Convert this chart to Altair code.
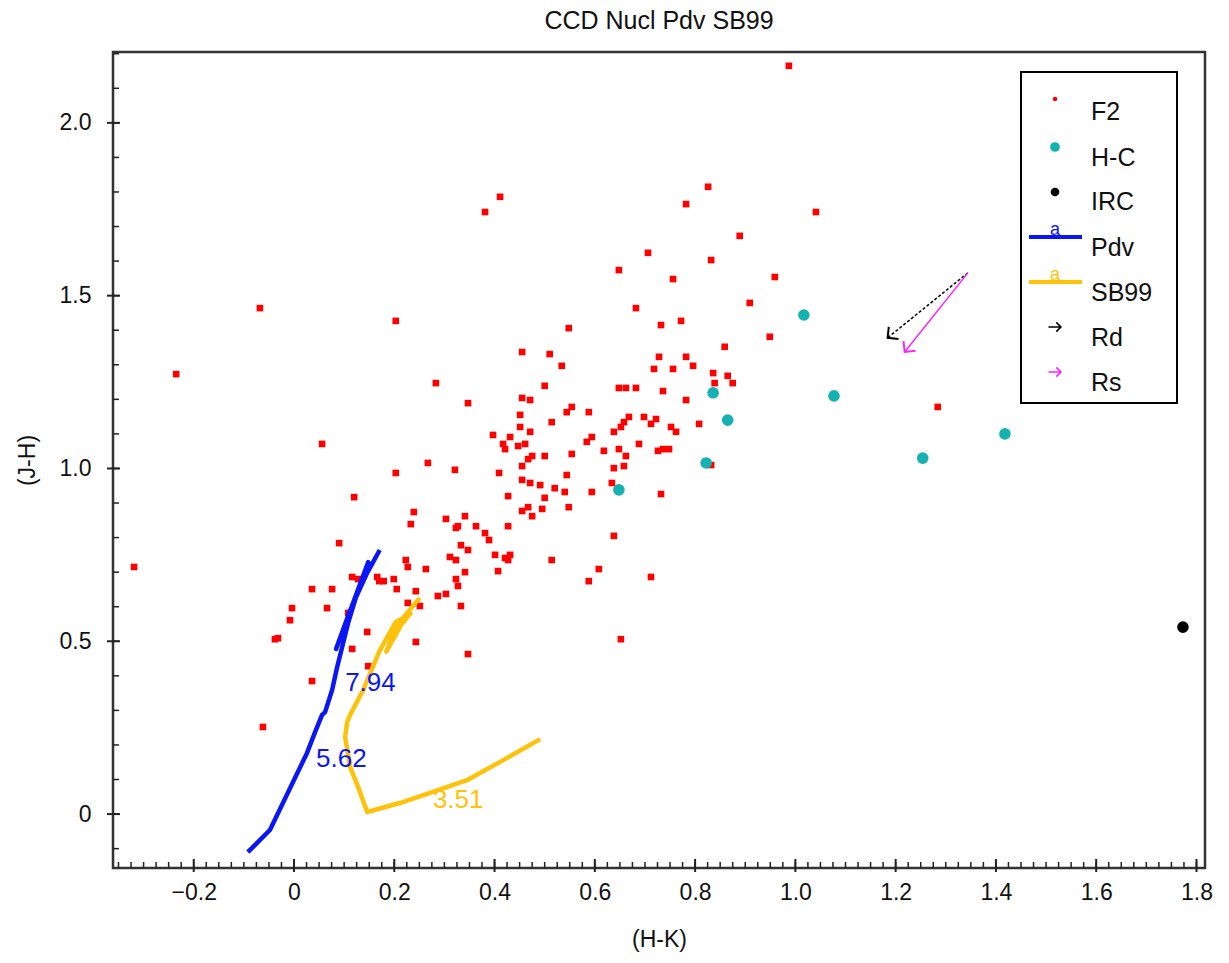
import math
import altair as alt
import pandas as pd

# ---------------- data ----------------
f2_hk = [0.411, 0.381, 0.782, 0.706, 0.648, 0.756, 0.987, 0.826, 1.041, 0.889, 0.832, 0.959, 0.909,
         -0.068, -0.235, 0.203, 0.283, 0.347, 0.397, 0.056, 0.267, 0.203, 0.321, 0.409, 0.120,
         0.682, 0.548, 0.732, 0.772, 0.455, 0.510, 0.534, 0.728, 0.782, 0.718, 0.756, 0.796,
         0.500, 0.648, 0.662, 0.682, 0.736, 0.455, 0.471, 0.782, 0.554, 0.544, 0.588, 0.451,
         0.668, 0.698, 0.722, 0.514, 0.658, 0.652, 0.712, 0.451, 0.752, 0.808, 0.762, 0.638,
         0.471, 0.431, 0.594, 0.584, 0.417, 0.421, 0.461, 0.447, 0.688, 0.648, 0.618, 0.726,
         0.736, 0.748, 0.475, 0.467, 0.500, 0.554, 0.662, 0.455, 0.658, 0.638, 0.544, 0.455,
         0.471, 0.491, 0.520, 0.540, 0.594, 0.634, 0.427, 0.500, 0.732,
         0.239, 0.233, 0.303, 0.341, 0.323, 0.327, 0.363, 0.381, 0.389, 0.401, 0.407, 0.333,
         0.347, 0.311, 0.323, 0.341, 0.090, 0.223, 0.227, 0.263, 0.116, 0.128, 0.166, 0.170,
         0.179, 0.199, 0.205, 0.243, 0.036, 0.076, 0.323, 0.327, 0.303, 0.287, 0.333, 0.227,
         0.251, 0.066, 0.108, 0.146, 0.243, 0.116, 0.347, 0.148, 0.036,
         0.467, 0.455, 0.475, 0.495, 0.548, 0.427, 0.638, 0.421, 0.431, 0.427, 0.514, 0.608,
         0.588, 0.712, 0.652,
         -0.319, -0.004, -0.008, -0.038, -0.032, -0.062,
         0.949, 0.859, 0.836, 0.865, 0.839, 0.875, 0.832, 1.284]
f2_jh = [1.786, 1.742, 1.765, 1.624, 1.574, 1.548, 2.165, 1.815, 1.742, 1.673, 1.603, 1.554, 1.479,
         1.464, 1.273, 1.427, 1.247, 1.189, 1.097, 1.071, 1.016, 0.987, 0.996, 0.987, 0.917,
         1.464, 1.406, 1.415, 1.427, 1.337, 1.331, 1.297, 1.323, 1.323, 1.288, 1.288, 1.297,
         1.239, 1.233, 1.233, 1.233, 1.224, 1.204, 1.198, 1.198, 1.178, 1.163, 1.163, 1.155,
         1.149, 1.149, 1.143, 1.134, 1.134, 1.120, 1.129, 1.120, 1.120, 1.129, 1.106, 1.106,
         1.106, 1.091, 1.091, 1.077, 1.071, 1.056, 1.071, 1.065, 1.071, 1.056, 1.051, 1.051,
         1.056, 1.056, 1.036, 1.027, 1.036, 1.042, 1.036, 1.007, 1.007, 1.001, 0.981, 0.967,
         0.958, 0.952, 0.943, 0.932, 0.932, 0.958, 0.920, 0.915, 0.926,
         0.874, 0.839, 0.854, 0.862, 0.828, 0.833, 0.833, 0.813, 0.793, 0.750, 0.703, 0.778,
         0.764, 0.744, 0.735, 0.700, 0.784, 0.735, 0.715, 0.709, 0.686, 0.680, 0.686, 0.674,
         0.674, 0.680, 0.651, 0.645, 0.651, 0.651, 0.680, 0.660, 0.637, 0.631, 0.602, 0.611,
         0.602, 0.596, 0.582, 0.527, 0.498, 0.478, 0.463, 0.428, 0.385,
         0.888, 0.877, 0.862, 0.883, 0.888, 0.833, 0.805, 0.741, 0.750, 0.735, 0.735, 0.709,
         0.674, 0.686, 0.506,
         0.715, 0.596, 0.561, 0.506, 0.509, 0.252,
         1.381, 1.352, 1.276, 1.268, 1.247, 1.247, 1.010, 1.178]

hc_hk = [1.017, 0.836, 1.077, 0.865, 0.822, 1.254, 1.418, 0.648]
hc_jh = [1.444, 1.219, 1.210, 1.140, 1.016, 1.030, 1.100, 0.938]

irc_hk = [1.773]
irc_jh = [0.541]

pdv_hk = [-0.092, -0.048, 0.026, 0.042, 0.056, 0.062, 0.076, 0.086, 0.108, 0.128, 0.148, 0.084, 0.112, 0.146, 0.171]
pdv_jh = [-0.110, -0.046, 0.177, 0.237, 0.287, 0.295, 0.359, 0.425, 0.553, 0.648, 0.729, 0.478, 0.590, 0.698, 0.764]

sb99_hk = [0.491, 0.411, 0.345, 0.277, 0.211, 0.146, 0.128, 0.112, 0.102, 0.106, 0.112, 0.138,
           0.170, 0.203, 0.222, 0.232, 0.214, 0.184, 0.205, 0.229, 0.251]
sb99_jh = [0.217, 0.151, 0.098, 0.064, 0.032, 0.006, 0.078, 0.136, 0.223, 0.266, 0.287, 0.359,
           0.470, 0.556, 0.570, 0.580, 0.548, 0.470, 0.545, 0.588, 0.625]

age_text = ["7.94", "5.62", "3.51"]
age_hk = [0.102, 0.044, 0.277]
age_jh = [0.379, 0.159, 0.041]
age_track = ["Pdv", "Pdv", "SB99"]

red_from_hk = [1.344, 1.344]
red_from_jh = [1.566, 1.566]
red_to_hk = [1.184, 1.218]
red_to_jh = [1.378, 1.337]
red_name = ["Rd", "Rs"]

x_major = [-0.2, 0.0, 0.2, 0.4, 0.6, 0.8, 1.0, 1.2, 1.4, 1.6, 1.8]
y_major = [0.0, 0.5, 1.0, 1.5, 2.0]
x_minor = [round(-0.35 + 0.025 * i, 3) for i in range(87)]
y_minor = [round(-0.1 + 0.1 * i, 2) for i in range(24)]

legend_labels = ["F2", "H-C", "IRC", "Pdv", "SB99", "Rd", "Rs"]

# ---------------- layout / style ----------------
W, H = 1092, 816
XD = [-0.361, 1.817]
YD = [-0.156, 2.205]
FONT = "Liberation Sans"
RED, TEAL, BLUE, GOLD, MAG = "#ff0000", "#16b1b1", "#0b16f5", "#ffc20a", "#ff22ff"

xs = alt.Scale(domain=XD, nice=False, zero=False)
ys = alt.Scale(domain=YD, nice=False, zero=False)

lab0 = "datum.value == 0 ? '0' : format(datum.value, '.1f')"
xaxis = alt.Axis(values=x_major, labelExpr=lab0, ticks=False, domain=False, grid=False,
                 labelFont=FONT, labelFontSize=23, labelColor="#111", labelPadding=13,
                 title="(H-K)", titleFont=FONT, titleFontSize=23, titleFontWeight="normal",
                 titleColor="#111", titlePadding=24)
yaxis = alt.Axis(values=y_major, labelExpr=lab0, ticks=False, domain=False, grid=False,
                 labelFont=FONT, labelFontSize=23, labelColor="#111", labelPadding=22,
                 title="(J-H)", titleFont=FONT, titleFontSize=23, titleFontWeight="normal",
                 titleColor="#111", titlePadding=20)


def X(f="hk"):
    return alt.X(f"{f}:Q", scale=xs, axis=xaxis)


def Y(f="jh"):
    return alt.Y(f"{f}:Q", scale=ys, axis=yaxis)


f2 = pd.DataFrame({"hk": f2_hk, "jh": f2_jh})
hc = pd.DataFrame({"hk": hc_hk, "jh": hc_jh})
irc = pd.DataFrame({"hk": irc_hk, "jh": irc_jh})
pdv = pd.DataFrame({"hk": pdv_hk, "jh": pdv_jh, "i": range(len(pdv_hk))})
sb = pd.DataFrame({"hk": sb99_hk, "jh": sb99_jh, "i": range(len(sb99_hk))})
ages = pd.DataFrame({"hk": age_hk, "jh": age_jh, "t": age_text, "trk": age_track})

ppx = W / (XD[1] - XD[0])
ppy = H / (YD[1] - YD[0])
ang = [math.degrees(math.atan2(-(b2 - b1) * ppy, (a2 - a1) * ppx)) % 360
       for a1, b1, a2, b2 in zip(red_from_hk, red_from_jh, red_to_hk, red_to_jh)]
red = pd.DataFrame({"hk": red_from_hk, "jh": red_from_jh, "hk2": red_to_hk, "jh2": red_to_jh,
                    "n": red_name, "ang": ang})

l_f2 = alt.Chart(f2).mark_square(size=44, color=RED, opacity=1).encode(x=X(), y=Y())
l_hc = alt.Chart(hc).mark_circle(size=135, color=TEAL, opacity=1).encode(x=X(), y=Y())
l_irc = alt.Chart(irc).mark_circle(size=135, color="black", opacity=1).encode(x=X(), y=Y())
l_pdv = alt.Chart(pdv).mark_line(color=BLUE, strokeWidth=4.5, strokeJoin="round").encode(x=X(), y=Y(), order="i:Q")
l_sb = alt.Chart(sb).mark_line(color=GOLD, strokeWidth=4.5, strokeJoin="round").encode(x=X(), y=Y(), order="i:Q")
l_age_p = alt.Chart(ages).transform_filter("datum.trk == 'Pdv'").mark_text(
    font=FONT, fontSize=26, align="left", baseline="middle", color=BLUE).encode(x=X(), y=Y(), text="t:N")
l_age_s = alt.Chart(ages).transform_filter("datum.trk == 'SB99'").mark_text(
    font=FONT, fontSize=26, align="left", baseline="middle", color=GOLD).encode(x=X(), y=Y(), text="t:N")

l_red_d = alt.Chart(red).transform_filter("datum.n == 'Rd'").mark_rule(
    strokeWidth=1.5, strokeDash=[3, 2], color="black").encode(x=X(), y=Y(), x2="hk2:Q", y2="jh2:Q")
l_red_s = alt.Chart(red).transform_filter("datum.n == 'Rs'").mark_rule(
    strokeWidth=1.5, color=MAG).encode(x=X(), y=Y(), x2="hk2:Q", y2="jh2:Q")
chev = "M-1,-1L0,0L-1,1"
l_head_d = alt.Chart(red).transform_filter("datum.n == 'Rd'").mark_point(
    shape=chev, size=240, filled=False, strokeWidth=2, opacity=1, color="black").encode(
    x=X("hk2"), y=Y("jh2"), angle=alt.Angle("ang:Q", scale=None))
l_head_s = alt.Chart(red).transform_filter("datum.n == 'Rs'").mark_point(
    shape=chev, size=240, filled=False, strokeWidth=2, opacity=1, color=MAG).encode(
    x=X("hk2"), y=Y("jh2"), angle=alt.Angle("ang:Q", scale=None))

# inward tick marks drawn through the x / y scales
xt_min = alt.Chart(pd.DataFrame({"hk": x_minor})).mark_rule(color="#222", strokeWidth=1.5).encode(
    x=X(), y=alt.value(H), y2=alt.value(H - 6))
xt_maj = alt.Chart(pd.DataFrame({"hk": x_major})).mark_rule(color="#222", strokeWidth=2).encode(
    x=X(), y=alt.value(H + 4), y2=alt.value(H - 9))
yt_min = alt.Chart(pd.DataFrame({"jh": y_minor})).mark_rule(color="#222", strokeWidth=1.5).encode(
    y=Y(), x=alt.value(0), x2=alt.value(6))
yt_maj = alt.Chart(pd.DataFrame({"jh": y_major})).mark_rule(color="#222", strokeWidth=2).encode(
    y=Y(), x=alt.value(-6), x2=alt.value(7))

# ---------------- legend box ----------------
one = pd.DataFrame({"a": [0]})
LX0, LX1, LY0, LY1 = 908, 1064, 20, 351
SX, TX = 942, 978
rows_y = [60, 106, 150, 196, 241, 286, 331]
leg = [alt.Chart(one).mark_rect(fill="white", stroke="black", strokeWidth=2).encode(
    x=alt.value(LX0), x2=alt.value(LX1), y=alt.value(LY0), y2=alt.value(LY1))]
for lab, ty in zip(legend_labels, rows_y):
    leg.append(alt.Chart(one).mark_text(font=FONT, fontSize=25, align="left", baseline="middle",
                                         color="#111", text=lab).encode(x=alt.value(TX), y=alt.value(ty)))
leg.append(alt.Chart(one).mark_circle(size=20, color=RED, opacity=1).encode(x=alt.value(SX), y=alt.value(rows_y[0] - 13)))
leg.append(alt.Chart(one).mark_circle(size=95, color=TEAL, opacity=1).encode(x=alt.value(SX), y=alt.value(rows_y[1] - 11)))
leg.append(alt.Chart(one).mark_circle(size=75, color="black", opacity=1).encode(x=alt.value(SX), y=alt.value(rows_y[2] - 10)))
for ty, col in ((rows_y[3], BLUE), (rows_y[4], GOLD)):
    leg.append(alt.Chart(one).mark_rule(color=col, strokeWidth=4).encode(
        x=alt.value(916), x2=alt.value(969), y=alt.value(ty - 11)))
    leg.append(alt.Chart(one).mark_text(font=FONT, fontSize=18, color=col, text="a", baseline="bottom").encode(
        x=alt.value(942), y=alt.value(ty - 9)))
arrow_sym = "M-1,0L0.9,0M0.2,-0.7L0.9,0L0.2,0.7"
for ty, col in ((rows_y[5], "black"), (rows_y[6], MAG)):
    leg.append(alt.Chart(one).mark_point(shape=arrow_sym, size=170, filled=False, strokeWidth=1.6,
                                         color=col, opacity=1).encode(x=alt.value(SX), y=alt.value(ty - 11)))

chart = alt.layer(
    l_f2, l_hc, l_irc, l_pdv, l_sb, l_age_p, l_age_s, l_red_d, l_red_s, l_head_d, l_head_s,
    xt_min, xt_maj, yt_min, yt_maj, *leg
).properties(
    width=W, height=H,
    background="white",
    title=alt.TitleParams("CCD Nucl Pdv SB99", font=FONT, fontSize=25, fontWeight="normal",
                          color="#111", offset=18, anchor="middle"),
    padding={"left": 113, "top": 52, "right": 24, "bottom": 95},
    autosize=alt.AutoSizeParams(type="none"),
).configure_view(stroke="#333", strokeWidth=2.5)

chart.save("out.html", embed_options={"renderer": "svg", "actions": False})
